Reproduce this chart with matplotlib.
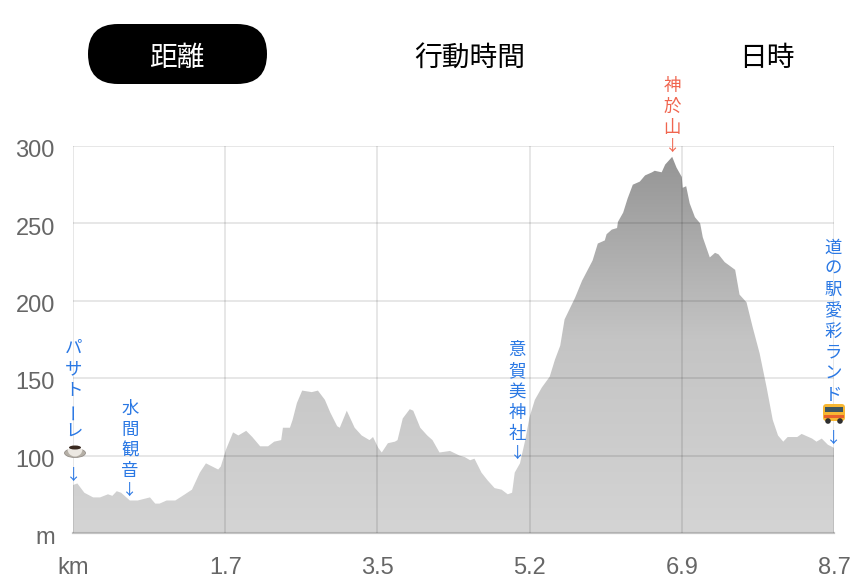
import matplotlib
matplotlib.use("Agg")
import matplotlib.pyplot as plt
import numpy as np
from matplotlib.colors import LinearSegmentedColormap
from matplotlib.patches import Circle, Ellipse, FancyBboxPatch, Rectangle, Wedge
from matplotlib.transforms import ScaledTranslation

plt.rcParams["font.family"] = ["Liberation Sans", "Noto Sans CJK JP", "DejaVu Sans"]

# elevation profile
distance_km = [
    0.00, 0.05, 0.13, 0.23, 0.31, 0.40, 0.45, 0.50, 0.55, 0.65, 0.74, 0.88, 0.94, 0.99, 1.07, 1.17,
    1.28, 1.36, 1.45, 1.52, 1.66, 1.69, 1.75, 1.83, 1.89, 1.98, 2.05, 2.14, 2.23, 2.30, 2.38, 2.40,
    2.48, 2.51, 2.56, 2.62, 2.73, 2.80, 2.88, 2.94, 3.02, 3.05, 3.13, 3.22, 3.30, 3.39, 3.43, 3.49,
    3.53, 3.60, 3.68, 3.71, 3.77, 3.85, 3.89, 3.97, 4.05, 4.11, 4.19, 4.31, 4.42, 4.48, 4.54, 4.59,
    4.67, 4.74, 4.82, 4.90, 4.97, 5.02, 5.05, 5.11, 5.17, 5.22, 5.28, 5.36, 5.45, 5.51, 5.57, 5.62,
    5.68, 5.74, 5.82, 5.94, 6.00, 6.08, 6.10, 6.16, 6.22, 6.23, 6.29, 6.34, 6.40, 6.48, 6.54, 6.62,
    6.65, 6.73, 6.77, 6.85, 6.90, 6.96, 6.97, 7.01, 7.05, 7.11, 7.17, 7.20, 7.28, 7.34, 7.38, 7.45,
    7.57, 7.62, 7.70, 7.77, 7.85, 7.93, 8.00, 8.06, 8.12, 8.17, 8.28, 8.33, 8.45, 8.50, 8.56, 8.63,
    8.70,
]
elevation_m = [
    81, 82, 76, 73, 73, 75, 74, 77, 76, 71, 71, 73, 69, 69, 71, 71,
    75, 78, 89, 95, 91, 93, 104, 115, 113, 116, 112, 106, 106, 109, 110, 118,
    118, 123, 134, 142, 141, 142, 136, 128, 119, 118, 129, 118, 113, 110, 112, 105,
    102, 108, 109, 110, 124, 130, 129, 118, 113, 110, 102, 103, 100, 99, 97, 98,
    89, 84, 79, 78, 75, 76, 89, 95, 110, 125, 136, 144, 151, 162, 171, 188,
    195, 202, 213, 226, 237, 239, 243, 246, 247, 251, 257, 266, 275, 277, 281, 283,
    284, 283, 288, 293, 286, 280, 273, 274, 263, 254, 250, 241, 228, 231, 230, 225,
    220, 204, 199, 183, 166, 144, 123, 113, 109, 112, 112, 114, 111, 109, 111, 107,
    105,
]

x_ticks = [0, 1.74, 3.48, 5.22, 6.96, 8.7]
x_labels = ["km", "1.7", "3.5", "5.2", "6.9", "8.7"]
y_ticks = [50, 100, 150, 200, 250, 300]
y_labels = ["m", "100", "150", "200", "250", "300"]

tabs = ["距離", "行動時間", "日時"]

# place names: stacked characters with an arrow pointing at the profile
place_names = ["パサトーレ", "水間観音", "意賀美神社", "神於山", "道の駅愛彩ランド"]
place_km = [0.01, 0.65, 5.08, 6.85, 8.69]
place_m = [81, 71, 95, 293, 105]
place_colors = ["#2a78e4", "#2a78e4", "#2a78e4", "#f0654f", "#2a78e4"]
place_icon_gap = [True, False, False, False, True]

CJK = ["Noto Sans CJK JP", "DejaVu Sans"]

fig = plt.figure(figsize=(8.6, 5.86), dpi=100)
ax = fig.add_axes([73 / 860, 1 - 533 / 586, 761 / 860, 387 / 586])
ax.set_xlim(0, 8.7)
ax.set_ylim(50, 300)

# vertical gradient clipped to the profile
cmap = LinearSegmentedColormap.from_list("elev", ["#d4d4d4", "#c4c4c4", "#929292"])
grad = np.linspace(0, 1, 256).reshape(-1, 1)
im = ax.imshow(grad, origin="lower", extent=(0, 8.7, 50, 300), aspect="auto", cmap=cmap, zorder=1)
poly = ax.fill_between(distance_km, elevation_m, 50, color="none", lw=0)
im.set_clip_path(poly.get_paths()[0], transform=ax.transData)

ax.set_xticks(x_ticks, x_labels)
ax.set_yticks(y_ticks, y_labels)
ax.grid(True, color="black", alpha=0.1, lw=1.3, zorder=2)
ax.set_axisbelow(False)
ax.tick_params(length=0, labelsize=17, labelcolor="#666666")
ax.tick_params(axis="x", pad=17.5)
ax.tick_params(axis="y", pad=13)
for label in ax.get_yticklabels():
    label.set_transform(label.get_transform() + ScaledTranslation(0, -2 / 72, fig.dpi_scale_trans))
for side, spine in ax.spines.items():
    spine.set_visible(side == "bottom")
ax.spines["bottom"].set_color("#c4c4c4")
ax.spines["bottom"].set_linewidth(1.6)

for name, km, m, color, icon in zip(place_names, place_km, place_m, place_colors, place_icon_gap):
    ax.annotate("↓", (km, m), xytext=(0, 10), textcoords="offset pixels", ha="center", va="center",
                fontsize=11, color=color, annotation_clip=False, zorder=5, family=CJK)
    offset = 53 if icon else 29
    for ch in reversed(name):
        ax.annotate(ch, (km, m), xytext=(0, offset), textcoords="offset pixels", ha="center", va="center",
                    fontsize=12.5, color=color, annotation_clip=False, zorder=5,
                    rotation=90 if ch == "ー" else 0, family=CJK)
        offset += 21

# overlay in pixel coordinates for the tab bar and the two emoji
ov = fig.add_axes([0, 0, 1, 1], zorder=10)
ov.set_xlim(0, 860)
ov.set_ylim(586, 0)
ov.axis("off")
ov.patch.set_alpha(0)

ov.add_patch(FancyBboxPatch((88, 24), 179, 60, boxstyle="round,pad=0,rounding_size=30", fc="black", ec="none"))
for label, tx, col in zip(tabs, [177, 470, 767], ["white", "black", "black"]):
    ov.text(tx, 58, label, ha="center", va="center", fontsize=20, color=col, family=CJK)

# coffee cup
ov.add_patch(Ellipse((75, 453), 21, 9, fc="#b5afa6", ec="#8c8680", lw=0.5))
ov.add_patch(Wedge((75, 449), 7.5, 0, 180, fc="#ece8e2", ec="none"))
ov.add_patch(Ellipse((75, 447.5), 12, 4, fc="#3a2a20", ec="none"))

# bus
ov.add_patch(FancyBboxPatch((823, 404), 22, 17, boxstyle="round,pad=0,rounding_size=3.5", fc="#f7b733", ec="none"))
ov.add_patch(Rectangle((825, 407), 18, 5, fc="#3d5560", ec="none"))
ov.add_patch(Rectangle((824, 415), 20, 3, fc="#e8622c", ec="none"))
for wx in [828, 840]:
    ov.add_patch(Circle((wx, 421), 2.8, fc="#2f2f2f", ec="none"))

fig.savefig("out.png", dpi=100)
